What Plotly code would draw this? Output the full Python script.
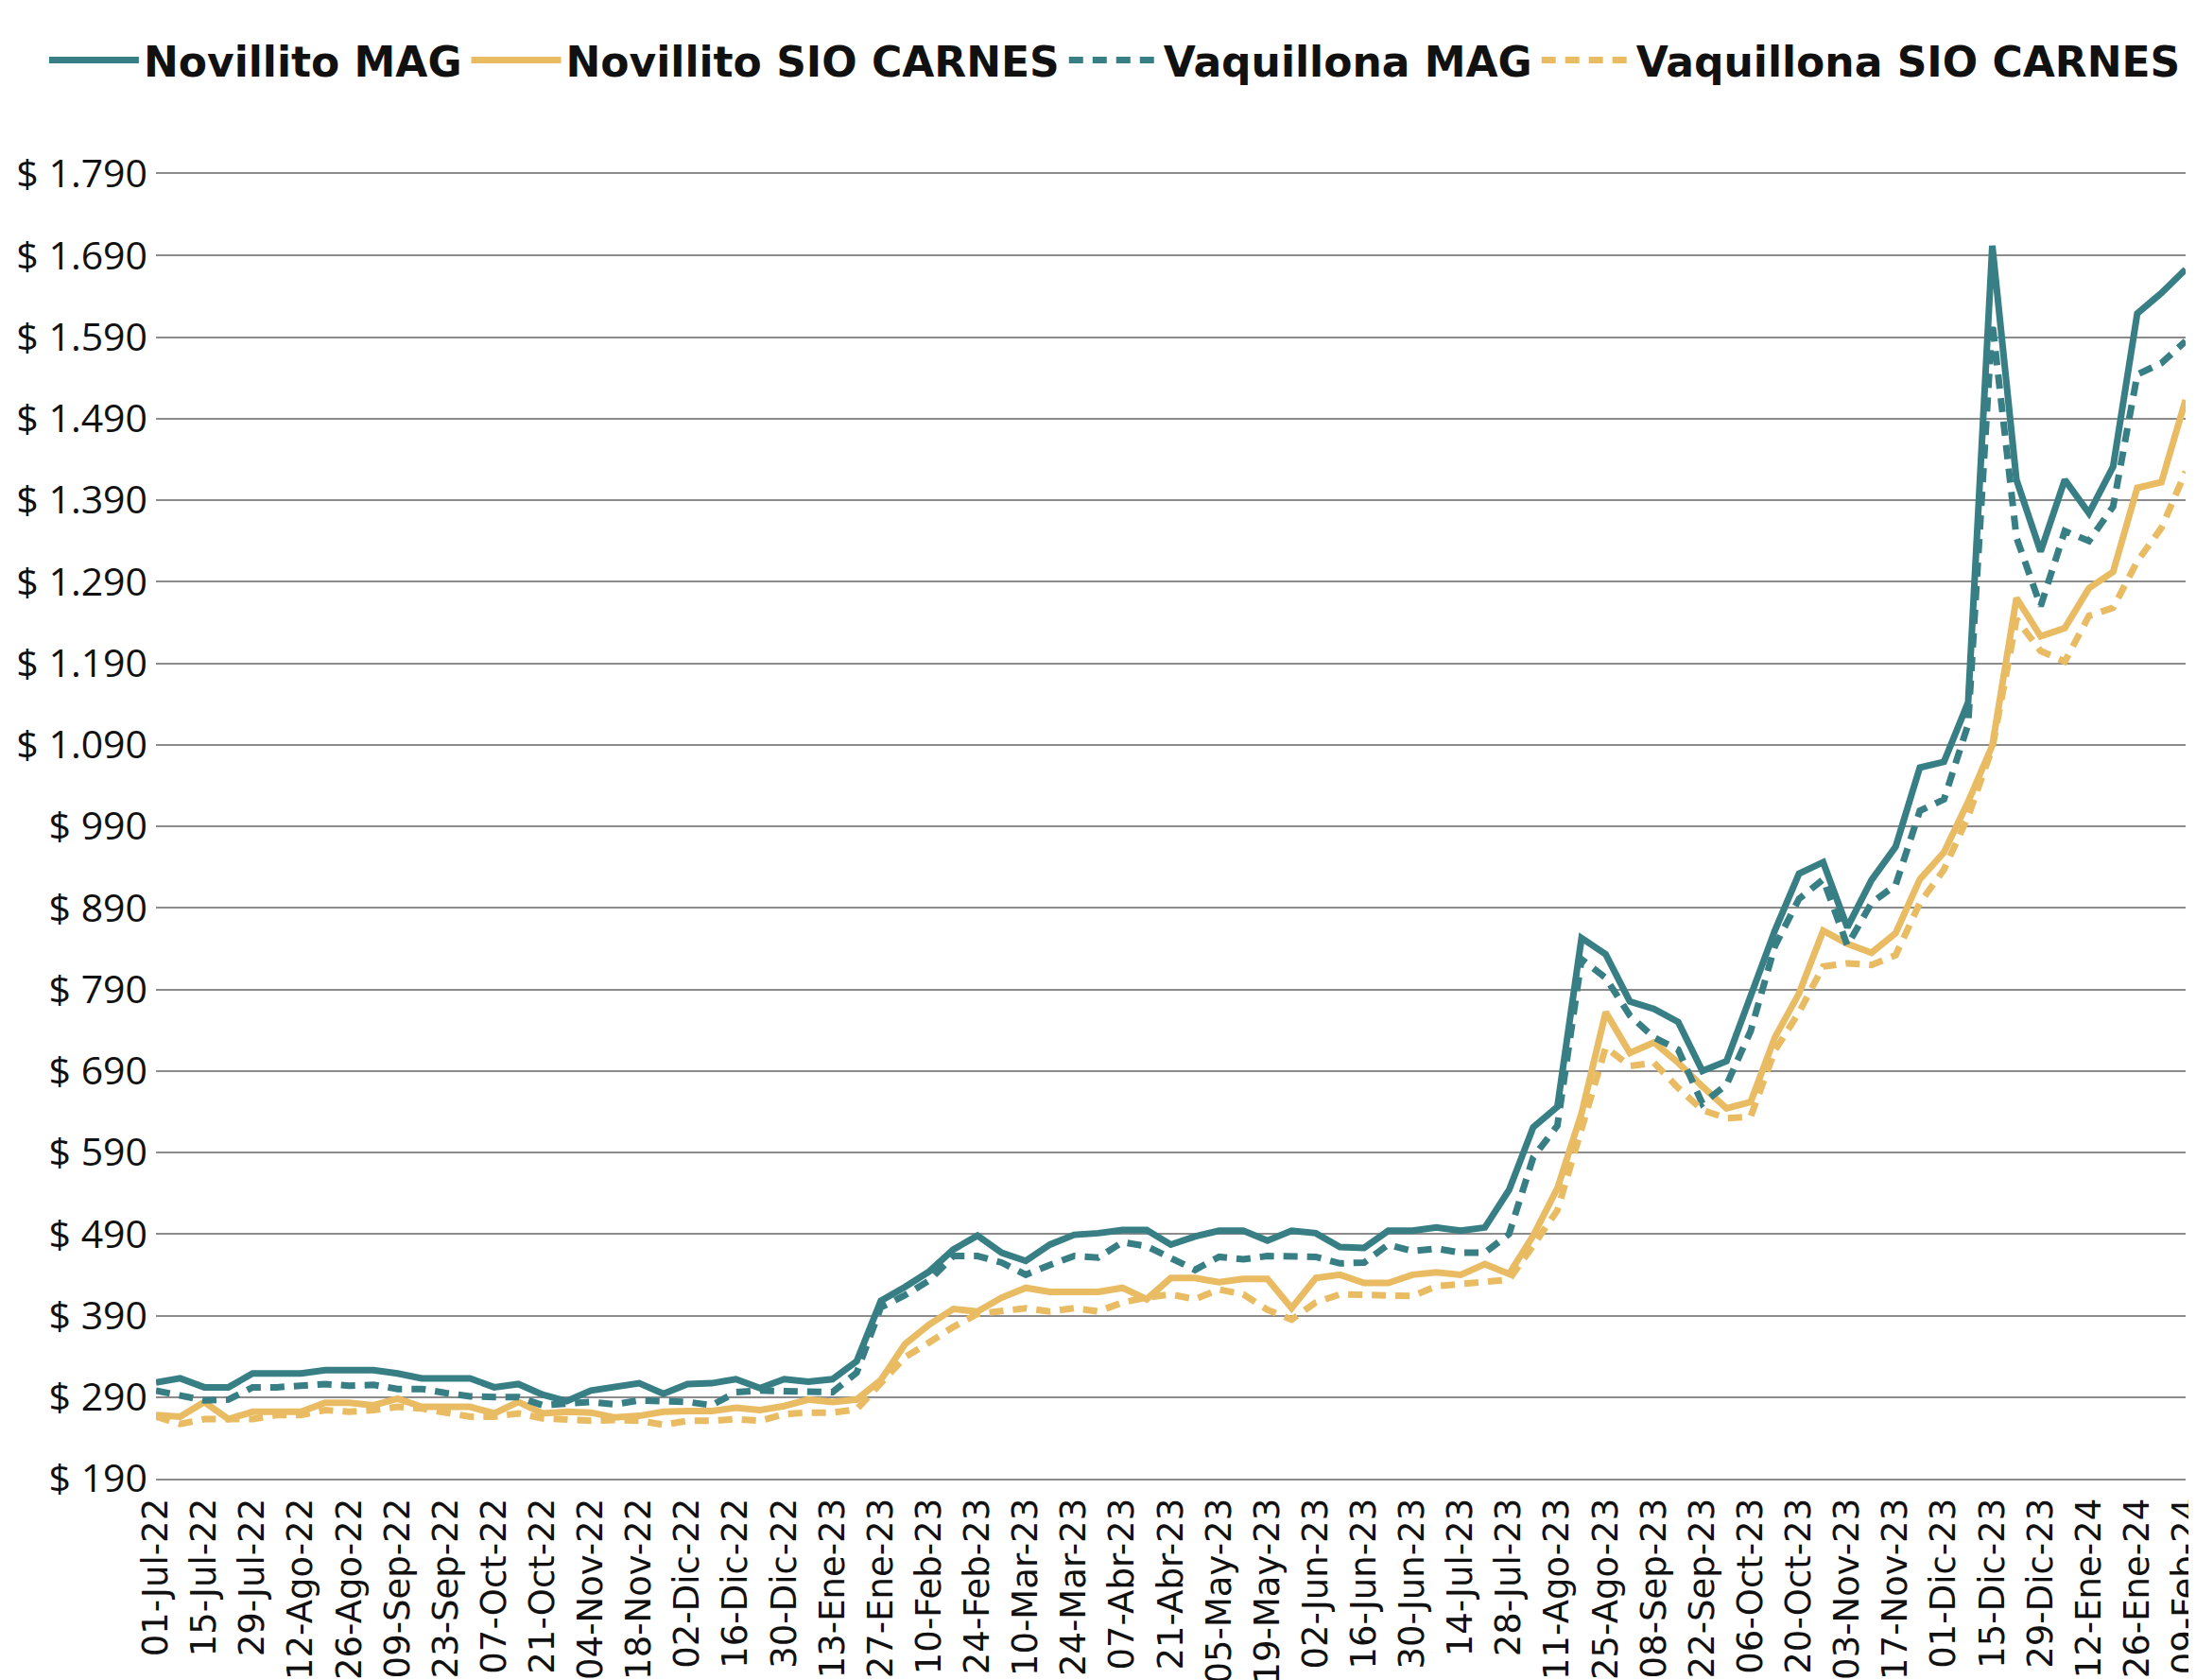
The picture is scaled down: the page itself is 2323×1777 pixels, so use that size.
import plotly.graph_objects as go

weeks = [
    "01-Jul-22", "08-Jul-22", "15-Jul-22", "22-Jul-22", "29-Jul-22",
    "05-Ago-22", "12-Ago-22", "19-Ago-22", "26-Ago-22",
    "02-Sep-22", "09-Sep-22", "16-Sep-22", "23-Sep-22", "30-Sep-22",
    "07-Oct-22", "14-Oct-22", "21-Oct-22", "28-Oct-22",
    "04-Nov-22", "11-Nov-22", "18-Nov-22", "25-Nov-22",
    "02-Dic-22", "09-Dic-22", "16-Dic-22", "23-Dic-22", "30-Dic-22",
    "06-Ene-23", "13-Ene-23", "20-Ene-23", "27-Ene-23",
    "03-Feb-23", "10-Feb-23", "17-Feb-23", "24-Feb-23",
    "03-Mar-23", "10-Mar-23", "17-Mar-23", "24-Mar-23", "31-Mar-23",
    "07-Abr-23", "14-Abr-23", "21-Abr-23", "28-Abr-23",
    "05-May-23", "12-May-23", "19-May-23", "26-May-23",
    "02-Jun-23", "09-Jun-23", "16-Jun-23", "23-Jun-23", "30-Jun-23",
    "07-Jul-23", "14-Jul-23", "21-Jul-23", "28-Jul-23",
    "04-Ago-23", "11-Ago-23", "18-Ago-23", "25-Ago-23",
    "01-Sep-23", "08-Sep-23", "15-Sep-23", "22-Sep-23", "29-Sep-23",
    "06-Oct-23", "13-Oct-23", "20-Oct-23", "27-Oct-23",
    "03-Nov-23", "10-Nov-23", "17-Nov-23", "24-Nov-23",
    "01-Dic-23", "08-Dic-23", "15-Dic-23", "22-Dic-23", "29-Dic-23",
    "05-Ene-24", "12-Ene-24", "19-Ene-24", "26-Ene-24",
    "02-Feb-24", "09-Feb-24",
]

novillito_mag = [
    308, 313, 302, 302, 319, 319, 319, 323, 323, 323, 319, 313, 313, 313, 302, 306, 293, 285,
    298, 303, 307, 294, 306, 307, 312, 301, 312, 309, 312, 334, 408, 425, 444, 471, 488, 467,
    457, 477, 489, 491, 495, 495, 477, 487, 494, 494, 482, 494, 491, 474, 473, 494, 494, 498, 494, 498, 544,
    621, 646, 853, 833, 775, 766, 750, 690, 702, 781, 862, 932,
    946, 866, 924, 965,
    1062, 1069, 1142, 1702, 1415, 1327, 1415, 1374, 1431, 1619, 1644, 1673,
]

novillito_sio = [
    268, 266, 284, 263, 272, 272, 272, 283, 283, 280, 288, 278, 278, 278, 270, 284, 270, 272,
    271, 265, 267, 272, 273, 273, 277, 274, 279, 287, 284, 287, 311, 355, 379, 398, 395, 412,
    424, 419, 419, 419, 424, 410, 436, 436, 431, 435, 435, 399, 436, 440, 430, 430, 440, 443, 440, 453, 441,
    488, 546, 638, 762, 712, 725, 700, 671, 644, 652, 731, 785,
    862, 846, 835, 859,
    925, 958, 1020, 1089, 1270, 1223, 1233, 1282, 1302, 1405, 1412, 1513,
]

vaquillona_mag = [
    298, 292, 286, 287, 302, 302, 304, 306, 304, 305, 300, 300, 295, 291, 290, 290, 280, 282,
    284, 281, 286, 285, 284, 280, 296, 298, 298, 296, 296, 320, 400, 415, 433, 463, 463, 455,
    440, 452, 463, 461, 480, 475, 461, 446, 462, 459, 463, 463, 462, 454, 455, 477, 469, 472, 467, 467, 490,
    584, 623, 827, 804, 758, 731, 716, 650, 673, 739, 843, 901,
    925, 844, 896, 918,
    1009, 1023, 1115, 1608, 1344, 1260, 1352, 1340, 1382, 1544, 1558, 1585,
]

vaquillona_sio = [
    266, 257, 263, 264, 263, 268, 268, 274, 272, 274, 278, 276, 272, 266, 266, 270, 264, 262,
    261, 262, 261, 256, 261, 261, 263, 261, 269, 271, 271, 275, 307, 339, 357, 376, 392, 395,
    399, 395, 399, 395, 406, 412, 416, 410, 422, 416, 397, 385, 406, 416, 416, 416, 414, 426, 428, 431, 434,
    476, 519, 619, 719, 696, 700, 669, 642, 632, 634, 715, 762,
    818, 822, 820, 832,
    896, 937, 1002, 1086, 1244, 1205, 1192, 1248, 1258, 1315, 1356, 1425,
]

TEAL = "#377E85"
GOLD = "#E9BB62"
GRID = "#8c8c8c"
DOT = "15px,10px"

series = [
    ("Novillito MAG", novillito_mag, TEAL, "solid"),
    ("Novillito SIO CARNES", novillito_sio, GOLD, "solid"),
    ("Vaquillona MAG", vaquillona_mag, TEAL, DOT),
    ("Vaquillona SIO CARNES", vaquillona_sio, GOLD, DOT),
]

fig = go.Figure()
for name, vals, color, dash in series:
    fig.add_trace(go.Scatter(
        x=weeks, y=vals, mode="lines", name=name,
        line=dict(color=color, width=7, dash=dash),
    ))

fig.update_layout(
    width=2323, height=1777,
    margin=dict(l=157, r=19, t=176, b=221, autoexpand=False),
    paper_bgcolor="white", plot_bgcolor="white",
    separators=",.",
    showlegend=True,
    legend=dict(
        orientation="h", x=-0.055, xanchor="left", y=1.087, yanchor="middle",
        font=dict(family="DejaVu Sans", size=44, color="#111111", weight="bold"),
        itemwidth=95, traceorder="normal", bgcolor="rgba(0,0,0,0)",
    ),
    xaxis=dict(
        type="category", range=[0, 84], dtick=2, tick0=0,
        tickangle=-90, showgrid=False, zeroline=False,
        showline=True, mirror=True, linecolor=GRID, linewidth=2,
        tickfont=dict(family="DejaVu Sans", size=37, color="#111111"),
        automargin=False, ticks="", ticklabelstandoff=4,
    ),
    yaxis=dict(
        range=[190, 1790], tick0=190, dtick=100, tickformat=",.0f", tickprefix="$ ",
        showgrid=True, gridcolor=GRID, gridwidth=2, zeroline=False, showline=False,
        tickfont=dict(family="Open Sans", size=41, color="#111111"),
        automargin=False, ticks="", ticklabelstandoff=8,
    ),
)

fig.write_html("out.html")
